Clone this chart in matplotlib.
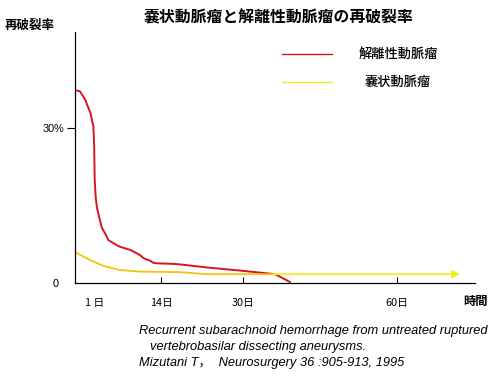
import numpy as np
import matplotlib
matplotlib.use("Agg")
import matplotlib.pyplot as plt
from matplotlib.transforms import blended_transform_factory

plt.rcParams['font.family'] = ['Noto Sans CJK JP', 'DejaVu Sans']

# -----------------------------------
# Data
# -----------------------------------
# dissecting aneurysm (red)
red_day = [-2.9, -1.9, -0.9, 0.1, 0.7, 0.85, 0.95, 1.15, 1.4, 2.0, 2.4, 3.3, 3.6,
           5.3, 5.9, 7.9, 9.8, 10.5, 11.8, 12.4, 13.1, 16.3, 17.6, 22.9,
           29.4, 36.2, 37.2, 39.1]
red_rate = [37.3, 37.0, 35.4, 32.9, 30.2, 26.4, 19.9, 16.5, 14.5, 12.0, 10.6, 9.0, 8.3,
            7.3, 7.0, 6.4, 5.4, 4.8, 4.3, 3.9, 3.8, 3.7, 3.6, 3.0,
            2.4, 1.7, 1.2, 0.2]

# saccular aneurysm (yellow), last point = arrow tip
yel_day = [-2.9, 0.1, 2.7, 5.9, 9.8, 17.6, 22.9, 29.4, 35.9, 72.4]
yel_rate = [6.0, 4.4, 3.3, 2.5, 2.2, 2.1, 1.7, 1.7, 1.7, 1.7]

x_ticks = [1, 14, 30, 60]
x_labels = ["1 日", "14日", "30日", "60日"]
y_ticks = [0, 30]
y_labels = ["0", "30%"]

title = "嚢状動脈瘤と解離性動脈瘤の再破裂率"
series_names = ["解離性動脈瘤", "嚢状動脈瘤"]
citation = ["Recurrent subarachnoid hemorrhage from untreated ruptured",
            "vertebrobasilar dissecting aneurysms.",
            "Mizutani T，  Neurosurgery 36 :905-913, 1995"]

RED = "#d7141e"
GOLD = "#f2c40c"
YEL = "#eeee22"

# -----------------------------------
# Plot
# -----------------------------------
fig = plt.figure(figsize=(5, 3.83), dpi=100)
ax = fig.add_axes([0.15, 0.2611, 0.80, 0.6553])

ax.plot(red_day, red_rate, color=RED, lw=1.4, solid_joinstyle="round")
ax.plot(yel_day[:-1], yel_rate[:-1], color=GOLD, lw=1.3)
ax.annotate("", xy=(yel_day[-1], yel_rate[-1]), xytext=(yel_day[-2], yel_rate[-2]),
            arrowprops=dict(arrowstyle="-|>", color=YEL, lw=1.3,
                            mutation_scale=11, shrinkA=0, shrinkB=0))

ax.set_xlim(-2.9, 75.3)
ax.set_ylim(0, 48.5)
for s in ["top", "right"]:
    ax.spines[s].set_visible(False)
for s in ["left", "bottom"]:
    ax.spines[s].set_linewidth(0.9)

ax.set_xticks(x_ticks)
ax.set_xticklabels(x_labels, fontsize=7.8)
ax.tick_params(axis="x", direction="in", length=4, width=0.8, pad=11)
ax.xaxis.get_major_ticks()[0].tick1line.set_visible(False)

ax.set_yticks(y_ticks)
ax.set_yticklabels(y_labels, fontsize=7.8, family=["Liberation Sans"])
ax.tick_params(axis="y", direction="out", length=6, width=0.8, pad=2)
ax.yaxis.get_major_ticks()[0].tick1line.set_visible(False)
ax.get_yticklabels()[0].set_x(-0.014)

trans = blended_transform_factory(ax.transData, fig.transFigure)
ax.text(75.3, 1 - 301 / 383, "時間", transform=trans, ha="center", va="center",
        fontsize=8.8, fontweight="bold")

# title and y label
fig.text(279 / 500, 1 - 17 / 383, title, ha="center", va="center",
         fontsize=11.4, fontweight="bold")
fig.text(5 / 500, 1 - 25 / 383, "再破裂率", ha="left", va="center",
         fontsize=9, fontweight="bold")

# legend drawn by hand
for i, (name, col) in enumerate(zip(series_names, [RED, YEL])):
    yy = 1 - (54 + 28 * i) / 383
    fig.add_artist(plt.Line2D([282 / 500, 332 / 500], [yy, yy], color=col, lw=1.0,
                              transform=fig.transFigure))
    fig.text(398 / 500, yy, name, ha="center", va="center", fontsize=9.5,
             fontweight="medium")

# citation
cite_size = 9.3
fig.text(139 / 500, 1 - 331 / 383, citation[0], style="italic", fontsize=cite_size,
         family=["Liberation Sans"], va="center")
fig.text(150 / 500, 1 - 347 / 383, citation[1], style="italic", fontsize=cite_size,
         family=["Liberation Sans"], va="center")
fig.text(139 / 500, 1 - 363 / 383, citation[2], style="italic", fontsize=cite_size,
         family=["Liberation Sans", "Noto Sans CJK JP"], va="center")

fig.savefig("out.png", dpi=100)
